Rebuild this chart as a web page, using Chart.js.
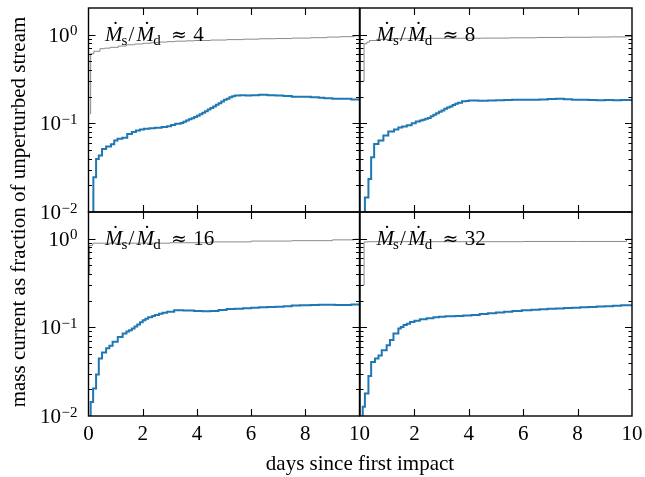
<!DOCTYPE html>
<html lang="en">
<head>
<meta charset="UTF-8">
<title>Mass current after impact</title>
<script src="https://cdn.jsdelivr.net/npm/chart.js"></script>
<style>
  html, body { margin: 0; padding: 0; background: #fff; }
  #wrap { position: relative; width: 645px; height: 477px; }
  #wrap canvas { position: absolute; left: 0; top: 0; }
</style>
</head>
<body>
<div id="wrap">
  <canvas id="p4" width="645" height="477"></canvas>
  <canvas id="p8" width="645" height="477"></canvas>
  <canvas id="p16" width="645" height="477"></canvas>
  <canvas id="p32" width="645" height="477"></canvas>
</div>
<script>
// values (step curves: value holds from each day onward)
const ratios = [4, 8, 16, 32];

const days4 = [0, 0.18, 0.28, 0.38, 0.5, 0.65, 0.83, 0.95, 1.07, 1.25, 1.43, 1.6, 1.75, 1.9, 2.05, 2.25, 2.45, 2.7, 2.9, 3.05, 3.2, 3.4, 3.5, 3.6, 3.7, 3.8, 3.9, 4.0, 4.1, 4.2, 4.3, 4.4, 4.5, 4.6, 4.7, 4.8, 4.9, 5.0, 5.1, 5.2, 5.3, 5.4, 5.6, 5.8, 6.0, 6.3, 6.6, 6.9, 7.2, 7.5, 7.8, 8.2, 8.5, 8.7, 9.0, 9.3, 9.7, 10];
const blue4 = [0.005, 0.0246, 0.0397, 0.0433, 0.0515, 0.0547, 0.058, 0.064, 0.067, 0.069, 0.076, 0.08, 0.083, 0.085, 0.087, 0.088, 0.089, 0.091, 0.093, 0.096, 0.099, 0.101, 0.104, 0.108, 0.111, 0.114, 0.118, 0.122, 0.127, 0.132, 0.137, 0.143, 0.149, 0.155, 0.162, 0.169, 0.176, 0.184, 0.19, 0.197, 0.202, 0.206, 0.207, 0.206, 0.208, 0.21, 0.208, 0.206, 0.204, 0.2, 0.199, 0.197, 0.194, 0.192, 0.19, 0.189, 0.186, 0.185];
const grayDays4 = [0.05, 0.08, 0.2, 0.42, 0.6, 0.8, 1.1, 1.4, 1.7, 2.0, 2.3, 2.6, 2.9, 3.2, 3.6, 3.9, 4.5, 5.1, 5.7, 6.3, 6.9, 7.5, 8.2, 8.8, 9.3, 9.8, 10];
const gray4 = [0.128, 0.61, 0.65, 0.695, 0.705, 0.72, 0.745, 0.77, 0.785, 0.8, 0.812, 0.825, 0.835, 0.845, 0.852, 0.86, 0.87, 0.88, 0.89, 0.9, 0.905, 0.915, 0.925, 0.94, 0.95, 0.97, 0.97];

const days8 = [0, 0.18, 0.31, 0.41, 0.52, 0.68, 0.86, 1.04, 1.25, 1.41, 1.55, 1.72, 1.9, 2.05, 2.2, 2.3, 2.4, 2.5, 2.6, 2.7, 2.8, 2.9, 3.0, 3.1, 3.2, 3.3, 3.4, 3.5, 3.6, 3.75, 3.9, 4.0, 4.35, 4.7, 5.0, 5.3, 5.6, 5.95, 6.3, 6.6, 6.9, 7.2, 7.5, 7.8, 8.1, 8.4, 8.7, 9.0, 9.3, 9.6, 10];
const blue8 = [0.005, 0.0146, 0.0236, 0.0414, 0.0586, 0.064, 0.073, 0.081, 0.085, 0.09, 0.092, 0.095, 0.1, 0.105, 0.108, 0.11, 0.113, 0.115, 0.12, 0.125, 0.13, 0.135, 0.14, 0.146, 0.151, 0.155, 0.161, 0.166, 0.171, 0.177, 0.179, 0.181, 0.18, 0.181, 0.182, 0.183, 0.184, 0.185, 0.185, 0.186, 0.188, 0.19, 0.187, 0.185, 0.184, 0.183, 0.182, 0.183, 0.182, 0.183, 0.183];
const grayDays8 = [0.1, 0.15, 0.25, 0.35, 0.6, 1.1, 1.8, 2.5, 3.5, 4.5, 5.5, 6.5, 7.5, 8.5, 9.2, 9.8, 10];
const gray8 = [0.30, 0.79, 0.825, 0.86, 0.885, 0.9, 0.905, 0.91, 0.912, 0.915, 0.922, 0.93, 0.935, 0.94, 0.945, 0.955, 0.955];

const days16 = [0, 0.08, 0.17, 0.28, 0.38, 0.5, 0.65, 0.77, 0.89, 1.08, 1.26, 1.4, 1.5, 1.6, 1.7, 1.8, 1.9, 2.0, 2.1, 2.2, 2.35, 2.45, 2.6, 2.73, 2.9, 3.16, 3.5, 3.9, 4.2, 4.5, 4.8, 5.1, 5.4, 5.7, 6.0, 6.3, 6.6, 6.9, 7.2, 7.5, 7.8, 8.2, 8.5, 8.8, 9.1, 9.4, 9.7, 10];
const blue16 = [0.005, 0.0144, 0.0204, 0.0293, 0.0444, 0.0519, 0.058, 0.062, 0.069, 0.078, 0.085, 0.09, 0.093, 0.097, 0.102, 0.108, 0.114, 0.12, 0.125, 0.13, 0.134, 0.138, 0.142, 0.146, 0.15, 0.156, 0.155, 0.153, 0.152, 0.153, 0.157, 0.161, 0.162, 0.164, 0.166, 0.168, 0.17, 0.171, 0.173, 0.176, 0.177, 0.179, 0.18, 0.18, 0.179, 0.179, 0.181, 0.182];
const grayDays16 = [0.02, 0.04, 0.16, 1.5, 3.0, 4.5, 6.0, 7.5, 9.0, 9.8, 10];
const gray16 = [0.40, 0.84, 0.89, 0.89, 0.90, 0.92, 0.94, 0.95, 0.97, 0.985, 0.985];

const days32 = [0, 0.1, 0.18, 0.31, 0.41, 0.55, 0.68, 0.8, 0.98, 1.1, 1.23, 1.41, 1.5, 1.6, 1.72, 1.84, 2.0, 2.2, 2.45, 2.7, 2.9, 3.14, 3.5, 3.8, 4.1, 4.4, 4.7, 5.0, 5.3, 5.6, 5.95, 6.3, 6.6, 6.9, 7.2, 7.5, 7.8, 8.1, 8.4, 8.7, 9.0, 9.3, 9.6, 10];
const blue32 = [0.005, 0.0127, 0.0179, 0.0283, 0.0407, 0.0444, 0.048, 0.055, 0.063, 0.072, 0.085, 0.097, 0.101, 0.106, 0.11, 0.115, 0.119, 0.123, 0.127, 0.13, 0.132, 0.133, 0.134, 0.136, 0.138, 0.141, 0.144, 0.147, 0.15, 0.153, 0.156, 0.158, 0.16, 0.162, 0.163, 0.165, 0.166, 0.168, 0.17, 0.172, 0.173, 0.175, 0.178, 0.179];
const grayDays32 = [0.1, 0.15, 0.3, 2, 4, 6, 8, 9.8, 10];
const gray32 = [0.30, 0.92, 0.925, 0.925, 0.925, 0.93, 0.93, 0.985, 0.985];

const xTickValues = [0, 2, 4, 6, 8, 10];
const yDecades = [0.01, 0.1, 1];
const yExponents = ['\u22122', '\u22121', '0'];
const xTitle = 'days since first impact';
const yTitle = 'mass current as fraction of unperturbed stream';

const SERIF = '"Liberation Serif", "Times New Roman", serif';

function pts(xs, ys) {
    return xs.map((x, i) => ({ x: x, y: ys[i] }));
}

// minor + major log ticks between 0.01 and 2
function logTicks() {
    const out = [];
    for (let e = -2; e <= 0; e++) {
        for (let k = 1; k <= 9; k++) {
            const v = k * Math.pow(10, e);
            if (v <= 2) out.push({ v: v, major: k === 1 });
        }
    }
    return out;
}

function drawRatioLabel(ctx, left, base, ratio) {
    const ital = 'italic 21px ' + SERIF;
    const big = '21px ' + SERIF;
    const small = '15px ' + SERIF;
    const dotM = (x) => {
        ctx.font = ital;
        ctx.fillText('M', x, base);
        ctx.font = big;
        ctx.textAlign = 'center';
        ctx.fillText('\u02D9', x + 10.5, base - 5);
        ctx.textAlign = 'left';
    };
    ctx.textAlign = 'left';
    ctx.textBaseline = 'alphabetic';
    dotM(left);
    ctx.font = small;
    ctx.fillText('s', left + 16.5, base + 4);
    ctx.font = big;
    ctx.fillText('/', left + 23.5, base);
    dotM(left + 31.5);
    ctx.font = small;
    ctx.fillText('d', left + 48.3, base + 4);
    ctx.font = '19px "DejaVu Serif", serif';
    ctx.fillText('\u2248', left + 66, base - 0.5);
    ctx.font = big;
    ctx.fillText(String(ratio), left + 88.3, base);
}

const panelDecor = {
    id: 'panelDecor',
    afterDatasetsDraw(chart, args, opts) {
        const { ctx, chartArea: a } = chart;
        const xs = chart.scales.x, ys = chart.scales.y;
        ctx.save();
        ctx.strokeStyle = '#000';
        ctx.fillStyle = '#000';
        ctx.lineWidth = 1.1;
        ctx.beginPath();
        xTickValues.forEach(v => {
            if (v <= 0 || v >= 10) return;
            const px = Math.round(xs.getPixelForValue(v)) + 0.5;
            ctx.moveTo(px, a.bottom); ctx.lineTo(px, a.bottom - 7);
            ctx.moveTo(px, a.top); ctx.lineTo(px, a.top + 7);
        });
        logTicks().forEach(t => {
            if (t.v <= 0.01 || t.v >= 2) return;
            const py = Math.round(ys.getPixelForValue(t.v)) + 0.5;
            const len = t.major ? 7 : 3.5;
            ctx.moveTo(a.left, py); ctx.lineTo(a.left + len, py);
            ctx.moveTo(a.right, py); ctx.lineTo(a.right - len, py);
        });
        ctx.stroke();
        ctx.lineWidth = 1.4;
        ctx.strokeRect(a.left, a.top, a.right - a.left, a.bottom - a.top);

        // tick labels
        if (opts.yLabels) {
            yDecades.forEach((v, i) => {
                const py = ys.getPixelForValue(v);
                ctx.textAlign = 'right';
                ctx.textBaseline = 'alphabetic';
                ctx.font = '15px ' + SERIF;
                const ex = yExponents[i];
                const exW = ctx.measureText(ex).width;
                ctx.fillText(ex, a.left - 11, py + 0.5);
                ctx.font = '21px ' + SERIF;
                ctx.fillText('10', a.left - 11.5 - exW, py + 7);
            });
        }
        if (opts.xLabels) {
            ctx.textAlign = 'center';
            ctx.textBaseline = 'alphabetic';
            ctx.font = '21px ' + SERIF;
            xTickValues.forEach(v => {
                if (v < opts.xFrom) return;
                ctx.fillText(String(v), xs.getPixelForValue(v), a.bottom + 23.5);
            });
        }
        drawRatioLabel(ctx, a.left + 16.5, a.top + 33, opts.ratio);

        if (opts.titles) {
            ctx.font = '21px ' + SERIF;
            ctx.textAlign = 'center';
            ctx.textBaseline = 'alphabetic';
            ctx.fillText(xTitle, 360, 470);
            ctx.translate(25, 212);
            ctx.rotate(-Math.PI / 2);
            ctx.fillText(yTitle, 0, 0);
        }
        ctx.restore();
    }
};

const panels = [
    { id: 'p4', box: [88.5, 8, 359.5, 212], days: days4, blue: blue4, gDays: grayDays4, gray: gray4, ratio: ratios[0], yLabels: true, xLabels: false, xFrom: 0, titles: false },
    { id: 'p8', box: [360, 8, 632, 212], days: days8, blue: blue8, gDays: grayDays8, gray: gray8, ratio: ratios[1], yLabels: false, xLabels: false, xFrom: 2, titles: false },
    { id: 'p16', box: [88.5, 212, 359.5, 416], days: days16, blue: blue16, gDays: grayDays16, gray: gray16, ratio: ratios[2], yLabels: true, xLabels: true, xFrom: 0, titles: true },
    { id: 'p32', box: [360, 212, 632, 416], days: days32, blue: blue32, gDays: grayDays32, gray: gray32, ratio: ratios[3], yLabels: false, xLabels: true, xFrom: 2, titles: false }
];

panels.forEach(p => {
    const [l, t, r, b] = p.box;
    new Chart(document.getElementById(p.id), {
        type: 'line',
        data: {
            datasets: [
                {
                    label: 'unperturbed',
                    data: pts(p.gDays, p.gray),
                    borderColor: '#8a8a8a',
                    borderWidth: 1,
                    stepped: true,
                    pointRadius: 0,
                    fill: false,
                    clip: 0
                },
                {
                    label: 'mass current',
                    data: pts(p.days, p.blue),
                    borderColor: '#1f77b4',
                    borderWidth: 2,
                    stepped: true,
                    pointRadius: 0,
                    fill: false,
                    clip: 0
                }
            ]
        },
        options: {
            responsive: false,
            devicePixelRatio: 1,
            animation: false,
            events: [],
            layout: { padding: { left: l, top: t, right: 645 - r, bottom: 477 - b } },
            plugins: {
                legend: { display: false },
                tooltip: { enabled: false },
                panelDecor: { ratio: p.ratio, yLabels: p.yLabels, xLabels: p.xLabels, xFrom: p.xFrom, titles: p.titles }
            },
            scales: {
                x: { type: 'linear', min: 0, max: 10, display: false },
                y: { type: 'logarithmic', min: 0.01, max: 2, display: false }
            }
        },
        plugins: [panelDecor]
    });
});
</script>
</body>
</html>
